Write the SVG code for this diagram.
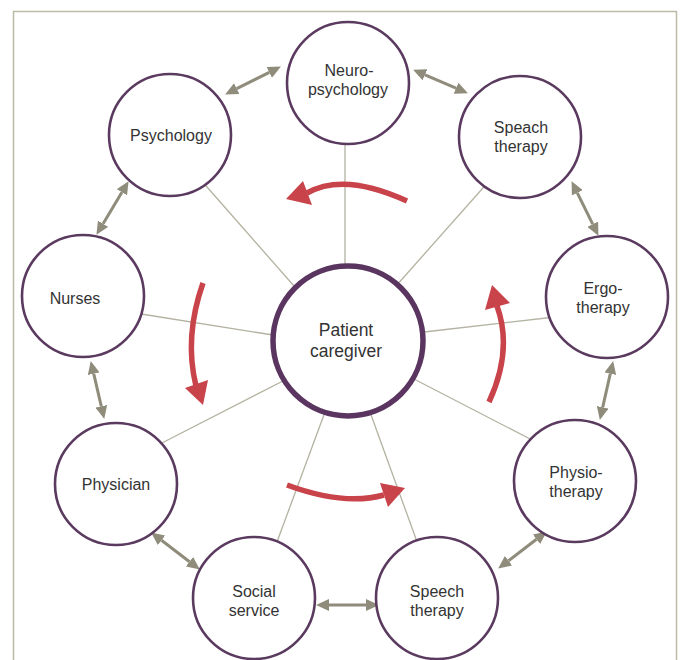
<svg xmlns="http://www.w3.org/2000/svg" width="681" height="660" viewBox="0 0 681 660">
<style>
.frame{fill:none;stroke:#bcbaa6;stroke-width:1.5}
.node circle{fill:#fff;stroke:#5b3a5f;stroke-width:2.6}
.main circle{fill:#fff;stroke:#5a3560;stroke-width:5.5}
text{font-family:"Liberation Sans",Arial,sans-serif;font-size:16px;fill:#333;text-anchor:middle}
.main text{font-size:17.5px}
.spoke{stroke:#b4b2a0;stroke-width:1.3;fill:none}
.dbl{stroke:#8f8c7c;stroke-width:3;fill:none;marker-start:url(#gh);marker-end:url(#gh)}
.red{stroke:#c8434a;stroke-width:5.5;fill:none}
.redhead{fill:#c8434a}
</style>
<defs>
<marker id="gh" markerUnits="userSpaceOnUse" markerWidth="13" markerHeight="12" viewBox="0 0 13 12" refX="0" refY="6" orient="auto-start-reverse">
<path d="M0,0 L13,6 L0,12 z" fill="#8f8c7c"/>
</marker>
</defs>
<rect class="frame" x="13.5" y="11.5" width="663" height="700"/>
<g id="connectors">
<line class="spoke" x1="345" y1="130" x2="345" y2="270"/>
<line class="spoke" x1="490" y1="180" x2="396" y2="286"/>
<line class="spoke" x1="555" y1="317" x2="424" y2="332"/>
<line class="spoke" x1="534" y1="441" x2="412" y2="378"/>
<line class="spoke" x1="420" y1="550" x2="370" y2="412"/>
<line class="spoke" x1="274" y1="550" x2="325" y2="412"/>
<line class="spoke" x1="160" y1="444" x2="283" y2="381"/>
<line class="spoke" x1="135" y1="313" x2="273" y2="335"/>
<line class="spoke" x1="200" y1="179" x2="294" y2="286"/>
<line class="dbl" x1="236.7" y1="88.6" x2="269.3" y2="72.4"/>
<line class="dbl" x1="425" y1="74.8" x2="456" y2="88.2"/>
<line class="dbl" x1="577.3" y1="192.8" x2="592.7" y2="224.2"/>
<line class="dbl" x1="610.3" y1="373.7" x2="602.7" y2="407.3"/>
<line class="dbl" x1="536.5" y1="539.3" x2="508.5" y2="560.7"/>
<line class="dbl" x1="366" y1="605" x2="329" y2="605"/>
<line class="dbl" x1="189.5" y1="561.7" x2="161.5" y2="540.3"/>
<line class="dbl" x1="101.3" y1="406.3" x2="93.7" y2="373.7"/>
<line class="dbl" x1="103.1" y1="223.7" x2="121.9" y2="192.3"/>
</g>
<g id="flow">
<path class="red" d="M407,201 Q344,172 307,193"/>
<polygon class="redhead" points="286,199 303,181 312,205"/>
<path class="red" d="M203,283 Q184,337 196,386"/>
<polygon class="redhead" points="203,405 185,388 208,380"/>
<path class="red" d="M287,485 Q344,506 384,495"/>
<polygon class="redhead" points="405,488 380,483 388,507"/>
<path class="red" d="M489,402 Q513,350 497,306"/>
<polygon class="redhead" points="492,285 485,310 510,303"/>
</g>
<g id="neuropsychology" class="node"><circle cx="348" cy="83" r="61"/><text x="349" y="76">Neuro-</text><text x="348" y="95">psychology</text></g>
<g id="speach-therapy" class="node"><circle cx="520" cy="137" r="61"/><text x="521" y="133">Speach</text><text x="521" y="152">therapy</text></g>
<g id="ergotherapy" class="node"><circle cx="607" cy="297" r="61"/><text x="603" y="294">Ergo-</text><text x="603" y="313">therapy</text></g>
<g id="physiotherapy" class="node"><circle cx="575" cy="481" r="61"/><text x="576" y="478">Physio-</text><text x="576" y="497">therapy</text></g>
<g id="speech-therapy" class="node"><circle cx="437" cy="598" r="61"/><text x="437" y="597">Speech</text><text x="437" y="616">therapy</text></g>
<g id="social-service" class="node"><circle cx="254" cy="598" r="61"/><text x="254" y="597">Social</text><text x="254" y="616">service</text></g>
<g id="physician" class="node"><circle cx="116" cy="484" r="61"/><text x="116" y="490">Physician</text></g>
<g id="nurses" class="node"><circle cx="83" cy="296" r="61"/><text x="75" y="304">Nurses</text></g>
<g id="psychology" class="node"><circle cx="170" cy="135" r="61"/><text x="171" y="141">Psychology</text></g>
<g id="patient-caregiver" class="main"><circle cx="348" cy="341" r="75"/><text x="346" y="336">Patient</text><text x="346" y="357">caregiver</text></g>
</svg>
